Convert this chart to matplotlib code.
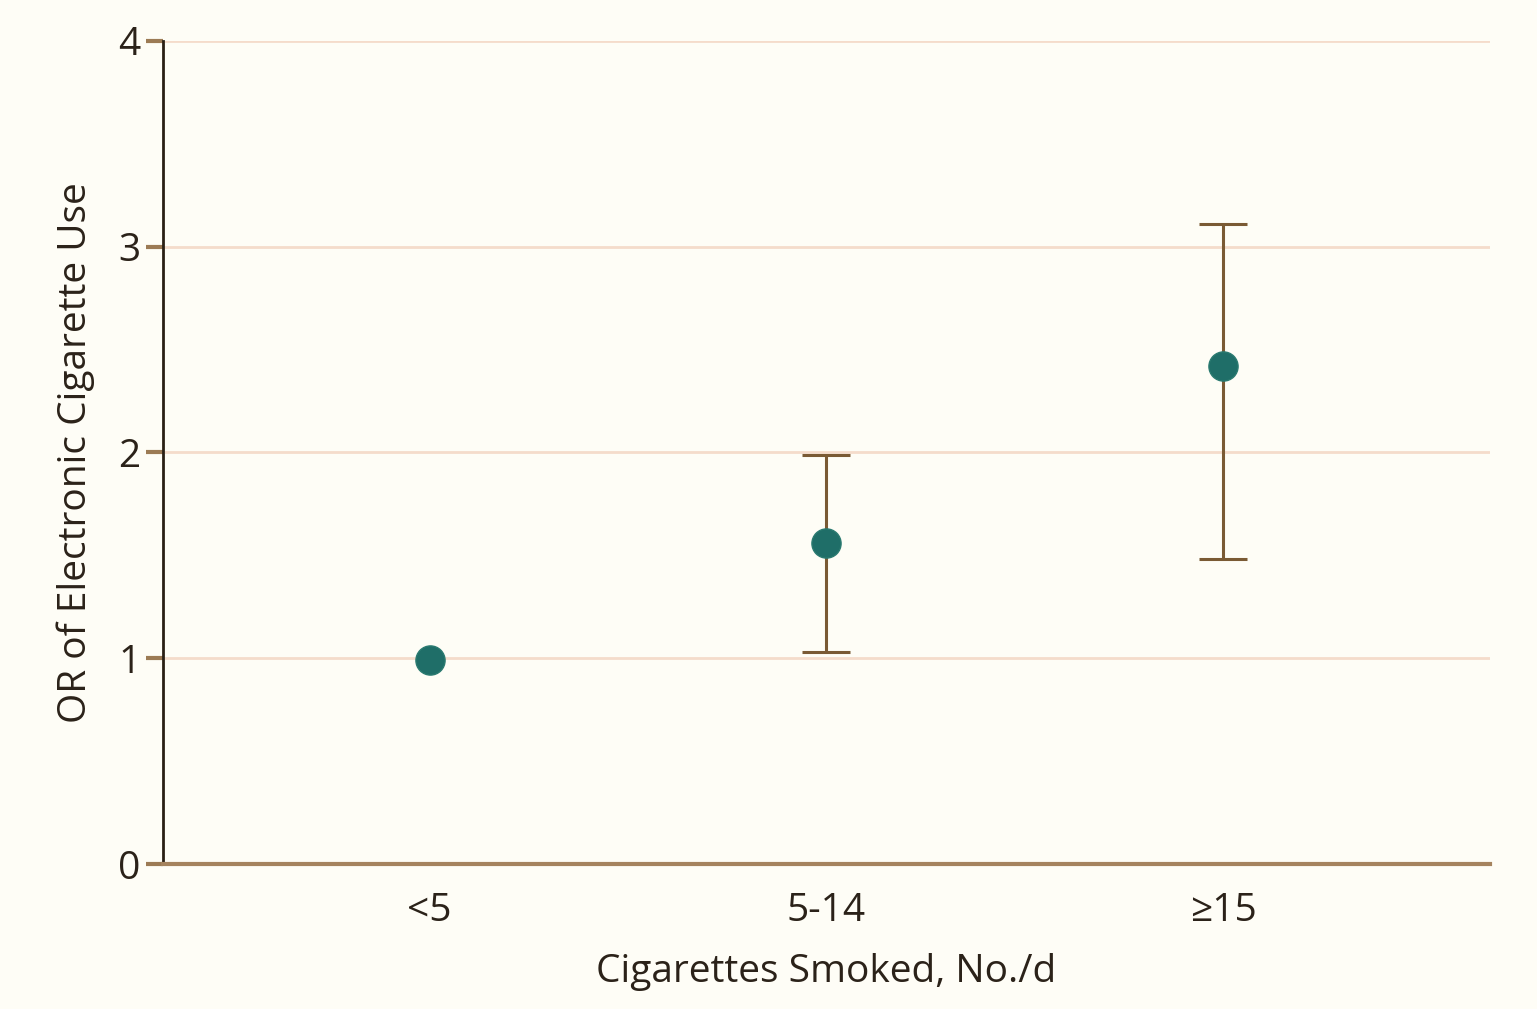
import numpy as np
import matplotlib
matplotlib.use('Agg')
import matplotlib.pyplot as plt

# Daten
categories = ['<5', '5-14', '≥15']
odds_ratio = [0.99, 1.56, 2.42]
ci_low = [0.99, 1.03, 1.48]
ci_high = [0.99, 1.99, 3.11]
y_ticks = [0, 1, 2, 3, 4]

plt.rcParams['font.family'] = ['Liberation Sans Narrow', 'Open Sans', 'DejaVu Sans']

bg = '#FEFDF6'
text_col = '#2B2219'
teal = '#1F6E68'

fig = plt.figure(figsize=(15.37, 10.09), dpi=100, facecolor=bg)
ax = fig.add_axes([0.106, 0.1437, 0.8634, 0.8157], facecolor=bg)

x = np.arange(len(categories))
y = np.array(odds_ratio)
err = np.array([y - np.array(ci_low), np.array(ci_high) - y])

# Fehlerbalken nur wo ein Intervall existiert
has_ci = err.sum(axis=0) > 0
ax.errorbar(x[has_ci], y[has_ci], yerr=err[:, has_ci], fmt='none',
            ecolor='#7A5A34', elinewidth=2.2, capsize=17, capthick=2.2, zorder=3)
ax.plot(x, y, 'o', color=teal, markersize=21, markeredgecolor='#2A7A70',
        markeredgewidth=1, zorder=4)

# styling
ax.set_xlim(-0.672, 2.672)
ax.set_ylim(0, 4)
ax.set_yticks(y_ticks)
ax.set_yticklabels([str(t) for t in y_ticks])
ax.set_xticks(x)
ax.set_xticklabels(categories)
ax.yaxis.grid(True, color='#F5DCCB', linewidth=2)
ax.set_axisbelow(True)

for s in ['top', 'right']:
    ax.spines[s].set_visible(False)
ax.spines['left'].set_color('#2A2015')
ax.spines['left'].set_linewidth(2)
ax.spines['bottom'].set_color('#A5835E')
ax.spines['bottom'].set_linewidth(3)

ax.tick_params(axis='y', length=12, width=3, color='#9C7B55', labelsize=28,
               labelcolor=text_col, pad=4)
ax.tick_params(axis='x', length=0, labelsize=28, labelcolor=text_col, pad=20)

ax.set_xlabel('Cigarettes Smoked, No./d', fontsize=28, color=text_col, labelpad=17)
ax.set_ylabel('OR of Electronic Cigarette Use', fontsize=28, color=text_col, labelpad=17)

fig.savefig('out.png', dpi=100, facecolor=bg)
